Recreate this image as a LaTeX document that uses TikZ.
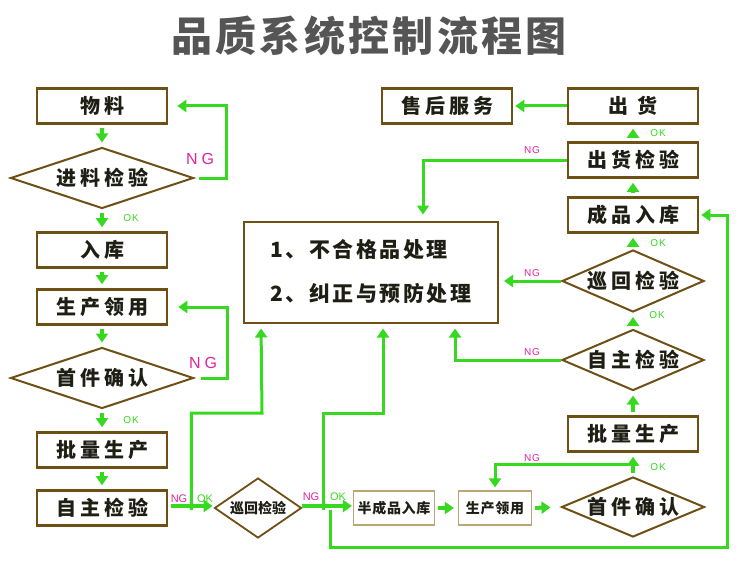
\documentclass[tikz,border=0pt]{standalone}
\usepackage{fontspec}
\usepackage{xcolor}
\usepackage{tikz}
\usetikzlibrary{shapes.geometric, arrows.meta, positioning, calc}
\setmainfont{Liberation Sans}
\newfontfamily\cjk{Noto Sans CJK SC}
\definecolor{lvse}{HTML}{36D91F}
\definecolor{zongse}{HTML}{6E5014}
\definecolor{qianzong}{HTML}{BBA774}
\definecolor{fenhong}{HTML}{E2239C}
\definecolor{huise}{HTML}{555555}
\definecolor{mose}{HTML}{1E1E14}
\tikzset{
  kuang/.style={rectangle, draw=zongse, line width=2.6pt, fill=white,
    minimum width=130pt, minimum height=35pt, inner sep=0pt, text=mose,
    font=\cjk\bfseries\fontsize{20}{22}\selectfont\addfontfeature{LetterSpace=20}},
  lingxing/.style={diamond, aspect=3, draw=zongse, line width=2pt, fill=white,
    inner sep=0pt, text=mose,
    font=\cjk\bfseries\fontsize{20}{22}\selectfont\addfontfeature{LetterSpace=20}},
  xiaokuang/.style={rectangle, draw=qianzong, line width=1.2pt, fill=white,
    minimum height=34pt, inner sep=0pt, text=mose,
    font=\cjk\bfseries\fontsize{14}{16}\selectfont\addfontfeature{LetterSpace=5}},
  jiantou/.style={-{Triangle[width=12pt,length=9pt]}, lvse, line width=3pt}
}

\begin{document}
\begin{tikzpicture}[x=1pt, y=-1pt,
  paso/.style={jiantou, line width=4pt, shorten <=3pt, shorten >=4pt},
  lazo/.style={jiantou},
  grueso/.style={jiantou, line width=4.5pt},
  ngP/.style={text=fenhong, font=\fontsize{10}{10}\selectfont\addfontfeature{LetterSpace=10}},
  ngG/.style={text=fenhong, font=\fontsize{16}{16}\selectfont\addfontfeature{LetterSpace=25}},
  okP/.style={text=lvse, font=\fontsize{10}{10}\selectfont\addfontfeature{LetterSpace=10}}]

  \fill[white] (0,0) rectangle (752,575);

  % --- Titulo ---
  \node[text=huise, font=\cjk\bfseries\fontsize{41}{44}\selectfont\addfontfeature{LetterSpace=8}]
    (titulo) at (369,36) {品质系统控制流程图};

  % --- Columna izquierda ---
  \node[kuang] (wuliao) at (102,106) {物料};
  \node[lingxing, minimum width=183pt, minimum height=61pt] (jinliao) at (102,178) {进料检验};
  \node[kuang] (ruku) at (102,250) {入库};
  \node[kuang] (lingyongA) at (102,307) {生产领用};
  \node[lingxing, minimum width=183pt, minimum height=61pt] (shoujianA) at (102,378) {首件确认};
  \node[kuang] (piliangA) at (102,450) {批量生产};
  \node[kuang] (zizhuA) at (102,508) {自主检验};

  % --- Fila inferior ---
  \node[lingxing, aspect=1.45, minimum width=87pt, minimum height=60pt, line width=1.8pt,
    font=\cjk\bfseries\fontsize{14}{16}\selectfont] (xunhuiA) at (258,508) {巡回检验};
  \node[xiaokuang, minimum width=81pt] (banchengpin) at (394,508) {半成品入库};
  \node[xiaokuang, minimum width=73pt] (lingyongB) at (495,508) {生产领用};
  \node[lingxing, aspect=2.4, minimum width=143pt, minimum height=60pt] (shoujianB) at (633,507) {首件确认};

  % --- Columna derecha ---
  \node[kuang] (piliangB) at (633,434) {批量生产};
  \node[lingxing, aspect=2.4, minimum width=142pt, minimum height=61pt] (zizhuB) at (633,360) {自主检验};
  \node[lingxing, aspect=2.4, minimum width=142pt, minimum height=62pt] (xunhuiB) at (633,281) {巡回检验};
  \node[kuang] (chengpin) at (633,215) {成品入库};
  \node[kuang] (chuhuojy) at (633,160) {出货检验};
  \node[kuang, font=\cjk\bfseries\fontsize{20}{22}\selectfont\addfontfeature{LetterSpace=45}]
    (chuhuo) at (633,106) {出货};
  \node[kuang] (shouhou) at (447,106) {售后服务};

  % --- Caja central ---
  \node[kuang, minimum width=254pt, minimum height=101pt, line width=2pt, align=left,
    font=\cjk\bfseries\fontsize{21}{44}\selectfont\addfontfeature{LetterSpace=12}]
    (chuli) at (371,272) {1、不合格品处理\\2、纠正与预防处理};

  % --- Flechas cortas ---
  \foreach \a/\b in {wuliao/jinliao, jinliao/ruku, ruku/lingyongA,
      lingyongA/shoujianA, shoujianA/piliangA, piliangA/zizhuA}
    \draw[paso] (\a.south) -- (\b.north);
  \foreach \a/\b in {shoujianB/piliangB, piliangB/zizhuB, zizhuB/xunhuiB,
      xunhuiB/chengpin, chengpin/chuhuojy, chuhuojy/chuhuo}
    \draw[paso] (\a.north) -- (\b.south);
  \draw[paso] (banchengpin.east) -- (lingyongB.west);
  \draw[paso, shorten >=10pt] (lingyongB.east) -- (shoujianB.west);

  % --- Retornos NG (izquierda) ---
  \draw[lazo, shorten >=9pt] ([xshift=4pt]jinliao.east) -- ++(28,0) |- (wuliao.east);
  \draw[lazo, shorten >=10pt] ([xshift=6pt]shoujianA.east) -- ++(27,0) |- (lingyongA.east);

  % --- Fila inferior ---
  \coordinate (fenA) at ($(zizhuA.east)+(23,2)$);
  \coordinate (fenB) at ($(xunhuiA.east)+(21,2)$);
  \coordinate (fenC) at ($(xunhuiA.east)+(28,2)$);
  \draw[grueso, shorten <=3pt, shorten >=1pt] ([yshift=2pt]zizhuA.east) -- ([yshift=2pt]xunhuiA.west);
  \draw[grueso, shorten >=1pt] ([yshift=2pt]xunhuiA.east) -- ([yshift=2pt]banchengpin.west);
  \draw[lazo, shorten >=5pt] (fenA) |- (262,413) -- ([xshift=18pt]chuli.south west);
  \draw[lazo, shorten >=5pt] (fenB) |- (383,413) -- ([xshift=12pt]chuli.south);
  \draw[lazo, shorten >=2pt] (fenC) |- (727,547) |- (chengpin.east);

  % --- Retornos NG (derecha) ---
  \coordinate (fenD) at ($(shoujianB.north)+(0,-12)$);
  \draw[lazo, shorten >=3pt] (fenD) -| (lingyongB.north);
  \draw[lazo, shorten >=5pt] (zizhuB.west) -| ([xshift=-44pt]chuli.south east);
  \draw[lazo, shorten >=5pt] (xunhuiB.west) -- (xunhuiB.west -| chuli.east);
  \draw[lazo, shorten >=6pt] (chuhuojy.west) -| ([xshift=52pt]chuli.north);
  \draw[lazo, shorten >=2pt] (chuhuo.west) -- (shouhou.east);

  % --- Etiquetas ---
  \node[ngG] (ng1) at (200,159) {NG};
  \node[okP] (ok1) at (131,218) {OK};
  \node[ngG] (ng2) at (203,363) {NG};
  \node[okP] (ok2) at (131,420) {OK};
  \node[ngP, font=\fontsize{11}{11}\selectfont] (ng3) at (179,499) {NG};
  \node[okP, font=\fontsize{11}{11}\selectfont] (ok3) at (205,499) {OK};
  \node[ngP, font=\fontsize{11}{11}\selectfont] (ng4) at (311,497) {NG};
  \node[okP, font=\fontsize{11}{11}\selectfont] (ok4) at (338,497) {OK};
  \node[ngP] (ng5) at (532,458) {NG};
  \node[okP] (ok5) at (658,467) {OK};
  \node[ngP] (ng6) at (532,352) {NG};
  \node[okP] (ok6) at (657,315) {OK};
  \node[ngP] (ng7) at (532,273) {NG};
  \node[okP] (ok7) at (658,243) {OK};
  \node[ngP] (ng8) at (532,150) {NG};
  \node[okP] (ok8) at (658,133) {OK};

\end{tikzpicture}
\end{document}
